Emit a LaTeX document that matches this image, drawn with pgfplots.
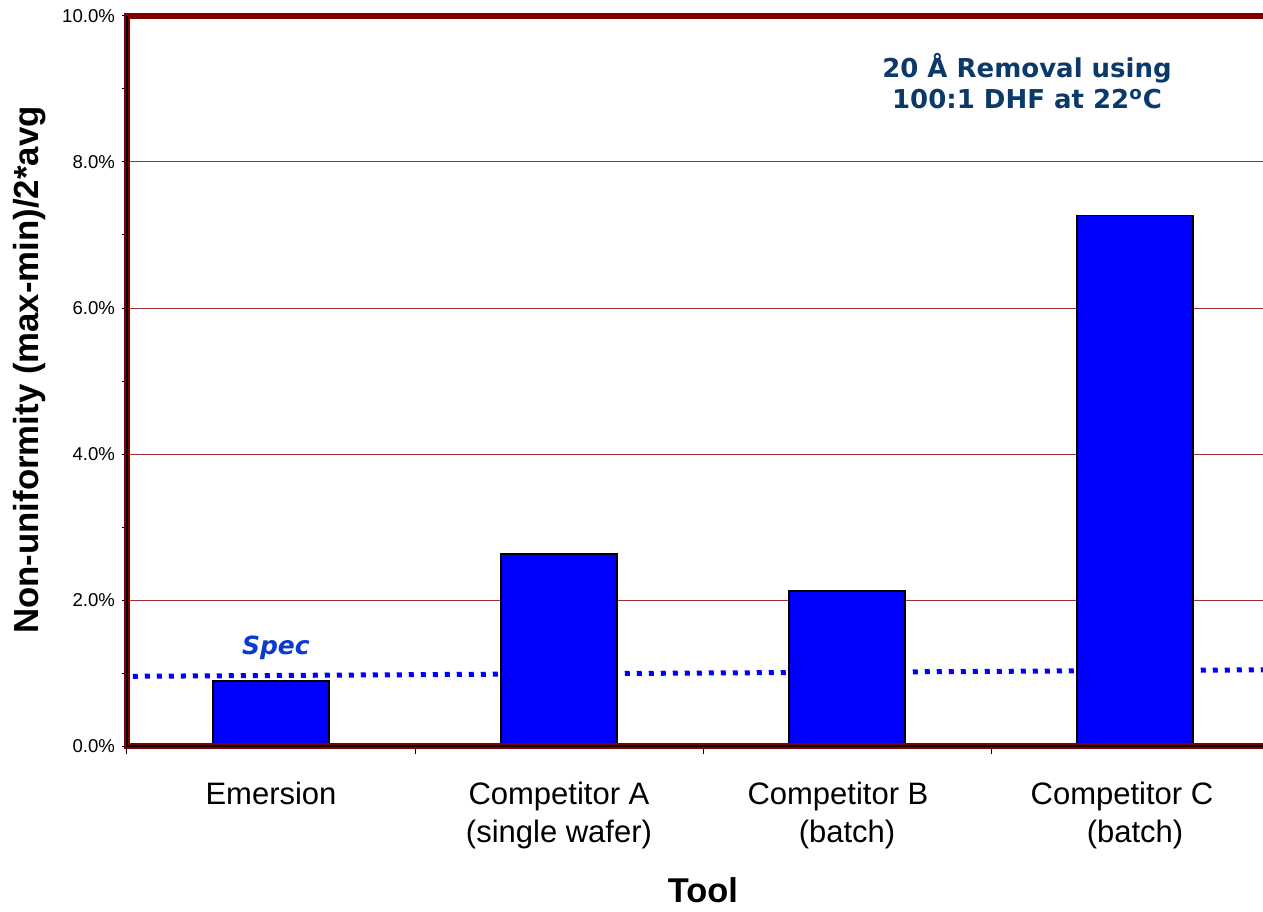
\documentclass[border=0pt]{standalone}
\usepackage{pgfplots}
\pgfplotsset{compat=1.18}
\usepackage{fontspec}
\setmainfont{Liberation Sans}
\newfontfamily\dejavu{DejaVu Sans}
\definecolor{framered}{HTML}{800000}
\definecolor{gridred}{HTML}{A03030}
\definecolor{navy}{HTML}{0B3A6A}
\definecolor{specblue}{HTML}{0A3AD0}
\begin{document}
\begin{tikzpicture}
\useasboundingbox (-63.5pt,-82.5pt) rectangle (568pt,373pt);
\clip (-63.5pt,-82.5pt) rectangle (568pt,373pt);
\begin{axis}[
  scale only axis, width=576pt, height=365pt,
  xmin=-0.5, xmax=3.5, ymin=0, ymax=10,
  clip=false,
  axis line style={draw=none},
  tick pos=left,
  tick align=outside,
  major tick length=2.5pt,
  minor tick length=4pt,
  tick style={black, line width=0.5pt},
  xtick={0,1,2,3},
  xticklabels={Emersion, Competitor A\\(single wafer), \hspace*{-9pt}Competitor B\\(batch), \hspace*{-13pt}Competitor C\\(batch)},
  major x tick style={draw=none},
  minor xtick={-0.5,0.5,1.5,2.5,3.5},
  xticklabel style={align=center, font=\fontsize{15.5}{19}\selectfont, yshift=-12pt},
  ytick={0,2,4,6,8,10},
  extra y ticks={1,3,5,7,9},
  extra y tick labels={},
  extra y tick style={grid=none},
  ymajorgrids,
  major grid style={gridred, line width=0.5pt},
  /pgf/number format/assume math mode=true,
  yticklabel={\pgfmathprintnumber[fixed,fixed zerofill,precision=1]{\tick}\%},
  yticklabel style={font=\fontsize{9.3}{11}\selectfont},
  xlabel={Tool},
  xlabel style={font=\bfseries\fontsize{17.2}{20}\selectfont, at={(axis description cs:0.5,-0.197)}, anchor=center},
  ylabel={Non-uniformity (max-min)/2*avg},
  ylabel style={font=\bfseries\fontsize{17.4}{20}\selectfont, at={(axis description cs:-0.0842,0.515)}, anchor=center},
]
\addplot[blue, line width=2.5pt, dash pattern=on 2.5pt off 3.5pt] coordinates {(-0.48,0.955) (3.5,1.045)};
\addplot[ybar, bar width=58pt, fill=blue, draw=black, line width=0.75pt] coordinates {(0,0.89) (1,2.63) (2,2.12) (3,7.27)};
\draw[framered, line width=3.2pt] (rel axis cs:1.02,1) -- (rel axis cs:0,1) -- (rel axis cs:0,0) -- (rel axis cs:1.02,0);
\draw[black, line width=0.6pt] (rel axis cs:0,1) -- (rel axis cs:0,0) -- (rel axis cs:1.02,0);
\node[align=center, font=\dejavu\bfseries\fontsize{13}{15.5}\selectfont, text=navy] at (axis cs:2.625,9.11) {20 Å Removal using\\100:1 DHF at 22\textsuperscript{o}C};
\node[font=\dejavu\bfseries\itshape\fontsize{12.5}{15}\selectfont, text=specblue] at (axis cs:0.017,1.34) {Spec};
\end{axis}
\end{tikzpicture}
\end{document}
